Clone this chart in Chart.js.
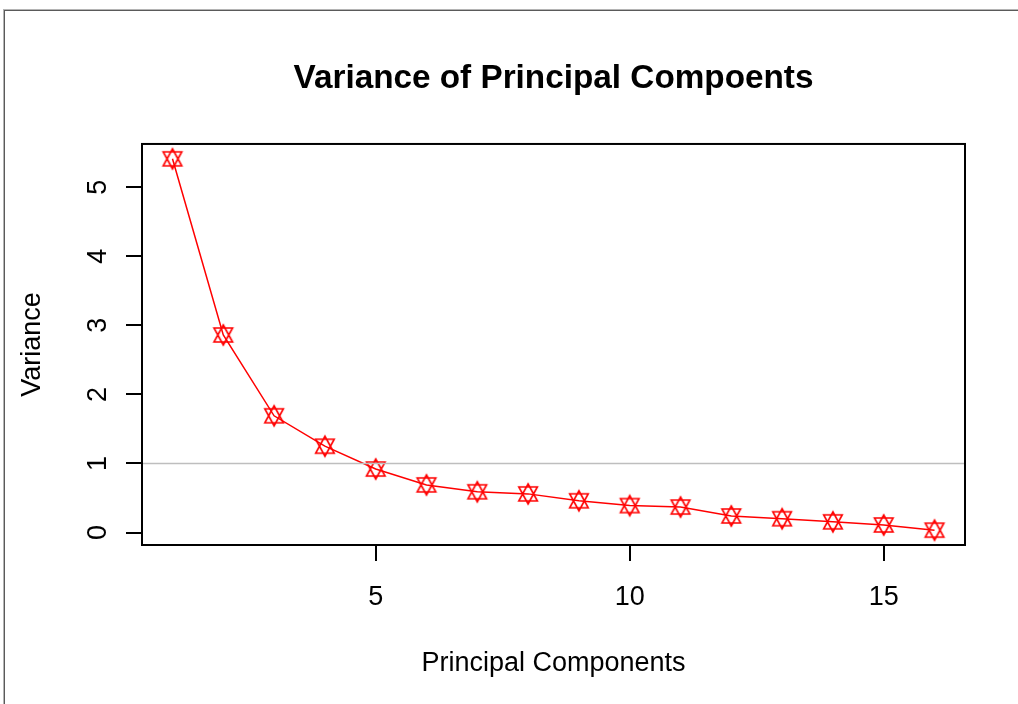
<!DOCTYPE html>
<html>
<head>
<meta charset="utf-8">
<title>Variance of Principal Compoents</title>
<script src="https://cdn.jsdelivr.net/npm/chart.js@4.4.1/dist/chart.umd.min.js"></script>
<style>
  html, body { margin: 0; padding: 0; background: #ffffff; overflow: hidden; }
  #frame-outer {
    position: absolute; left: 3px; top: 9px; width: 1100px; height: 800px;
    border-top: 1px solid #b4b4b4; border-left: 1px solid #b4b4b4;
  }
  #frame-inner {
    width: 100%; height: 100%;
    border-top: 1px solid #5a5a5a; border-left: 1px solid #5a5a5a;
  }
  #wrap { position: absolute; left: 0; top: 0; width: 1018px; height: 704px; }
  canvas { display: block; }
</style>
</head>
<body>
<div id="frame-outer"><div id="frame-inner"></div></div>
<div id="wrap"><canvas id="scree" width="1018" height="704"></canvas></div>
<script>
// Principal component index and the variance (eigenvalue) of each component
const components = [1, 2, 3, 4, 5, 6, 7, 8, 9, 10, 11, 12, 13, 14, 15, 16];
const variances = [5.41, 2.86, 1.69, 1.25, 0.92, 0.69, 0.59, 0.56, 0.46, 0.39, 0.37, 0.24, 0.20, 0.155, 0.11, 0.035];

// Axis tick values
const xTickValues = [5, 10, 15];
const yTickValues = [0, 1, 2, 3, 4, 5];

// Kaiser criterion reference level
const refLevel = 1;

const FONT = '"Liberation Sans", Arial, Helvetica, sans-serif';

// Axis limits padded by 4% of the data range on each side
function paddedRange(values) {
  const lo = Math.min(...values), hi = Math.max(...values);
  const pad = (hi - lo) * 0.04;
  return [lo - pad, hi + pad];
}
const [xMin, xMax] = paddedRange(components);
const [yMin, yMax] = paddedRange(variances);

// Open "triangles up and down" marker
function starMarker(color) {
  const size = 26, m = size / 2;
  const c = document.createElement('canvas');
  c.width = size; c.height = size;
  const g = c.getContext('2d');
  const xc = 9.3, yc = 7.0, r = 10.0;
  g.strokeStyle = color;
  g.lineWidth = 1.6;
  g.beginPath();
  g.moveTo(m, m - r); g.lineTo(m + xc, m + yc); g.lineTo(m - xc, m + yc); g.closePath();
  g.moveTo(m, m + r); g.lineTo(m + xc, m - yc); g.lineTo(m - xc, m - yc); g.closePath();
  g.stroke();
  return c;
}

// Horizontal reference line across the plot region
const refLinePlugin = {
  id: 'refLine',
  afterDatasetsDraw(chart) {
    const { ctx, chartArea, scales } = chart;
    const y = scales.y.getPixelForValue(refLevel);
    ctx.save();
    ctx.strokeStyle = '#bebebe';
    ctx.lineWidth = 1.6;
    ctx.beginPath();
    ctx.moveTo(chartArea.left, y);
    ctx.lineTo(chartArea.right, y);
    ctx.stroke();
    ctx.restore();
  }
};

// Box around the plot region
const plotBoxPlugin = {
  id: 'plotBox',
  afterDraw(chart) {
    const { ctx, chartArea } = chart;
    ctx.save();
    ctx.strokeStyle = '#000000';
    ctx.lineWidth = 2;
    ctx.strokeRect(chartArea.left, chartArea.top,
                   chartArea.right - chartArea.left, chartArea.bottom - chartArea.top);
    ctx.restore();
  }
};

const points = components.map((c, i) => ({ x: c, y: variances[i] }));

new Chart(document.getElementById('scree'), {
  type: 'line',
  data: {
    datasets: [{
      data: points,
      borderColor: '#ff0000',
      borderWidth: 1.5,
      tension: 0,
      fill: false,
      pointStyle: starMarker('#ff0000'),
      pointRadius: 10,
      pointHoverRadius: 10
    }]
  },
  options: {
    responsive: false,
    devicePixelRatio: 1,
    animation: false,
    events: [],
    layout: { padding: { left: 0, top: 0, right: 53, bottom: 0 } },
    plugins: {
      legend: { display: false },
      tooltip: { enabled: false },
      title: {
        display: true,
        text: 'Variance of Principal Compoents',
        fullSize: false,
        color: '#000000',
        font: { family: FONT, size: 33.3, weight: 'bold', lineHeight: 1.2 },
        padding: { top: 58.5, bottom: 45.5 }
      }
    },
    scales: {
      x: {
        type: 'linear',
        min: xMin,
        max: xMax,
        afterBuildTicks(scale) { scale.ticks = xTickValues.map(v => ({ value: v })); },
        afterFit(scale) { scale.height = 159; },
        ticks: {
          color: '#000000',
          font: { family: FONT, size: 27 },
          padding: 20,
          maxRotation: 0,
          minRotation: 0,
          includeBounds: false
        },
        grid: {
          drawOnChartArea: false,
          drawTicks: true,
          tickLength: 16,
          tickColor: '#000000',
          lineWidth: 2
        },
        border: { display: false },
        title: {
          display: true,
          text: 'Principal Components',
          color: '#000000',
          font: { family: FONT, size: 27, lineHeight: 1.2 },
          padding: { top: 0, bottom: 24 }
        }
      },
      y: {
        type: 'linear',
        min: yMin,
        max: yMax,
        afterBuildTicks(scale) { scale.ticks = yTickValues.map(v => ({ value: v })); },
        afterFit(scale) { scale.width = 142; },
        ticks: {
          color: '#000000',
          font: { family: FONT, size: 27 },
          padding: 20,
          minRotation: 90,
          maxRotation: 90,
          crossAlign: 'center',
          includeBounds: false
        },
        grid: {
          drawOnChartArea: false,
          drawTicks: true,
          tickLength: 16,
          tickColor: '#000000',
          lineWidth: 2
        },
        border: { display: false },
        title: {
          display: true,
          text: 'Variance',
          color: '#000000',
          font: { family: FONT, size: 27, lineHeight: 1.2 },
          padding: { top: 16, bottom: 0 }
        }
      }
    }
  },
  plugins: [refLinePlugin, plotBoxPlugin]
});
</script>
</body>
</html>
